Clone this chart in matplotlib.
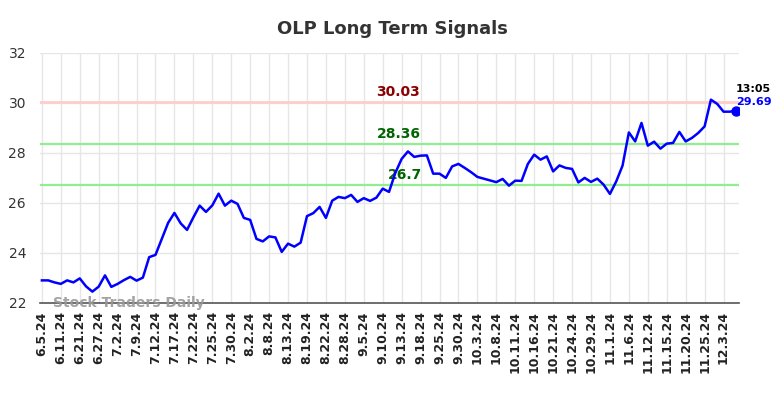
import matplotlib
matplotlib.use("Agg")
import matplotlib.pyplot as plt

title = "OLP Long Term Signals"
tick_labels = ["6.5.24", "6.11.24", "6.21.24", "6.27.24", "7.2.24", "7.9.24", "7.12.24",
               "7.17.24", "7.22.24", "7.25.24", "7.30.24", "8.2.24", "8.8.24", "8.13.24",
               "8.19.24", "8.22.24", "8.28.24", "9.5.24", "9.10.24", "9.13.24", "9.18.24",
               "9.25.24", "9.30.24", "10.3.24", "10.8.24", "10.11.24", "10.16.24",
               "10.21.24", "10.24.24", "10.29.24", "11.1.24", "11.6.24", "11.12.24",
               "11.15.24", "11.20.24", "11.25.24", "12.3.24"]
prices = [22.90, 22.90, 22.82, 22.76, 22.90, 22.82, 22.98, 22.66, 22.45, 22.65,
          23.10, 22.64, 22.76, 22.91, 23.04, 22.89, 23.01, 23.83, 23.92, 24.56,
          25.20, 25.60, 25.18, 24.92, 25.42, 25.89, 25.64, 25.90, 26.37, 25.89,
          26.09, 25.96, 25.40, 25.32, 24.56, 24.46, 24.66, 24.62, 24.04, 24.37,
          24.25, 24.41, 25.47, 25.59, 25.84, 25.40, 26.09, 26.24, 26.19, 26.32,
          26.04, 26.19, 26.08, 26.21, 26.57, 26.44, 27.20, 27.76, 28.06, 27.84,
          27.89, 27.90, 27.17, 27.17, 27.00, 27.46, 27.56, 27.40, 27.23, 27.04,
          26.97, 26.90, 26.83, 26.96, 26.69, 26.89, 26.88, 27.56, 27.93, 27.73,
          27.86, 27.26, 27.50, 27.40, 27.36, 26.82, 27.00, 26.84, 26.97, 26.73,
          26.36, 26.86, 27.49, 28.82, 28.46, 29.20, 28.29, 28.45, 28.17, 28.37,
          28.40, 28.84, 28.46, 28.60, 28.80, 29.06, 30.13, 29.96, 29.65, 29.65,
          29.69]
resistance = 30.03
support_levels = [28.36, 26.7]
last_time = "13:05"
last_price = 29.69
tick_step = 3

fig = plt.figure(figsize=(7.84, 3.98), dpi=100)
ax = fig.add_axes([0.051, 0.239, 0.892, 0.628])

x = list(range(len(prices)))
ax.plot(x, prices, color="#0000ff", lw=1.8, zorder=5)
ax.plot(x[-1], prices[-1], "o", color="#0000ff", ms=6.5, zorder=6)

ax.axhline(resistance, color="#ffcccc", lw=2, zorder=3)
for s in support_levels:
    ax.axhline(s, color="#90ee90", lw=1.6, zorder=3)

ax.set_xlim(-0.3, len(prices) - 0.5)
ax.set_ylim(22, 32)
ax.set_yticks([22, 24, 26, 28, 30, 32])
ticks = list(range(0, len(prices), tick_step))[:len(tick_labels)]
ax.set_xticks(ticks)
ax.set_xticklabels(tick_labels, rotation=90, fontsize=9, fontweight="bold", color="#222222")
ax.tick_params(axis="y", labelsize=10, labelcolor="#333333", length=0, pad=10)
ax.tick_params(axis="x", length=0, pad=6)
ax.grid(True, color="#e6e6e6", lw=1)
for side in ["top", "right", "left"]:
    ax.spines[side].set_visible(False)
ax.spines["bottom"].set_color("#555555")
ax.spines["bottom"].set_linewidth(1.2)

mid = 56.5
ax.text(mid, resistance + 0.12, f"{resistance:.2f}", color="#8b0000", fontsize=10,
        fontweight="bold", ha="center", va="bottom")
ax.text(mid, support_levels[0] + 0.12, f"{support_levels[0]:.2f}", color="#006400",
        fontsize=10, fontweight="bold", ha="center", va="bottom")
ax.text(mid + 1, support_levels[1] + 0.12, f"{support_levels[1]:g}", color="#006400",
        fontsize=10, fontweight="bold", ha="center", va="bottom")

ax.text(x[-1], last_price + 0.85, last_time, color="black", fontsize=8,
        fontweight="bold", ha="left", va="center")
ax.text(x[-1], last_price + 0.35, f"{last_price:.2f}", color="#0000ff", fontsize=8,
        fontweight="bold", ha="left", va="center")

ax.text(1.8, 22.0, "Stock Traders Daily", color="#999999", fontsize=10,
        fontweight="bold", ha="left", va="center", alpha=0.9, zorder=7)

fig.suptitle(title, fontsize=13, fontweight="bold", color="#333333", y=0.95)

fig.savefig("out.png", dpi=100, facecolor="white")
